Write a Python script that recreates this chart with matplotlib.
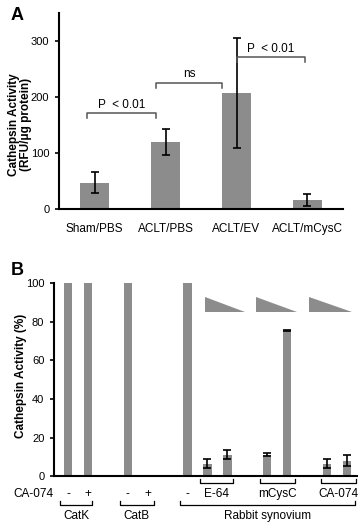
import matplotlib
matplotlib.use('Agg')
import matplotlib.pyplot as plt
import numpy as np

plt.rcParams['font.family'] = ['Liberation Sans', 'DejaVu Sans']

# ---- panel A data
groups_a = ['Sham/PBS', 'ACLT/PBS', 'ACLT/EV', 'ACLT/mCysC']
act_a = [47, 120, 207, 16]
err_a = [19, 23, 98, 11]
# brackets: (x_start, x_end, y, label)
brackets_a = [(-0.1, 0.86, 171, 'P  < 0.01'),
              (0.86, 1.80, 225, 'ns'),
              (2.01, 2.96, 271, 'P  < 0.01')]

# ---- panel B data
pos_b = [0, 1, 3, 4, 6, 7, 8, 10, 11, 13, 14]
act_b = [100, 100, 100, 0, 100, 6.5, 11, 11, 75.5, 6.5, 8]
err_b = [0, 0, 0, 0, 0, 2.5, 2.3, 0.8, 0.3, 2.5, 3]
signs_b = [(0, '-'), (1, '+'), (3, '-'), (4, '+'), (6, '-')]
inhib_groups = [(6.6, 8.3, 'E-64'), (9.65, 11.4, 'mCysC'), (12.7, 14.45, 'CA-074')]
sample_groups = [(-0.38, 1.2, 'CatK'), (2.6, 4.3, 'CatB'), (5.6, 14.4, 'Rabbit synovium')]
# dose wedges (x_left, x_right)
wedges = [(6.87, 8.87), (9.45, 11.5), (12.1, 14.25)]
wedge_top, wedge_bot = 93, 85

bar_col = '#8c8c8c'
fs = 8.5

fig = plt.figure(figsize=(3.58, 5.22), dpi=100)

# ---------------- A
ax = fig.add_axes([0.165, 0.5996, 0.793, 0.375])
x = np.arange(len(groups_a))
ax.bar(x, act_a, width=0.41, color=bar_col)
ax.errorbar(x, act_a, yerr=err_a, fmt='none', ecolor='black', elinewidth=1.2, capsize=2.8, capthick=1.2)
ax.set_xlim(-0.5, 3.5)
ax.set_ylim(0, 350)
ax.set_yticks([0, 100, 200, 300])
ax.set_xticks(x)
ax.set_xticklabels(groups_a, fontsize=fs)
ax.tick_params(axis='x', length=0, pad=10)
ax.tick_params(axis='y', labelsize=fs - 0.5, length=3, width=1.2, direction='out', pad=4)
for s in ['top', 'right']:
    ax.spines[s].set_visible(False)
for s in ['left', 'bottom']:
    ax.spines[s].set_linewidth(1.5)
for x0, x1, y, lab in brackets_a:
    ax.plot([x0, x0, x1, x1], [y - 8, y, y, y - 8], color='#555555', lw=1.1)
    ax.text((x0 + x1) / 2, y + 5, lab, ha='center', va='bottom', fontsize=fs)
ax.set_ylabel('Cathepsin Activity\n(RFU/\u03bcg protein)', fontsize=fs, fontweight='bold', linespacing=1.0)
ax.yaxis.set_label_coords(-0.095, 0.43)
fig.text(0.030, 0.987, 'A', fontsize=13, fontweight='bold', va='top')

# ---------------- B
bx = fig.add_axes([0.151, 0.088, 0.846, 0.369])
bx.bar(pos_b, act_b, width=0.42, color=bar_col)
pe = [(p, a, e) for p, a, e in zip(pos_b, act_b, err_b) if e > 0]
bx.errorbar([p for p, a, e in pe], [a for p, a, e in pe], yerr=[e for p, a, e in pe],
            fmt='none', ecolor='black', elinewidth=1.2, capsize=2.8, capthick=1.2)
for xl, xr in wedges:
    bx.fill([xl, xl, xr], [wedge_top, wedge_bot, wedge_bot], color=bar_col, lw=0)
bx.set_xlim(-0.7, 14.5)
bx.set_ylim(0, 100)
bx.set_yticks([0, 20, 40, 60, 80, 100])
bx.set_xticks([])
bx.tick_params(axis='y', labelsize=fs - 0.5, length=3, width=1.2, direction='out', pad=4)
for s in ['top', 'right']:
    bx.spines[s].set_visible(False)
for s in ['left', 'bottom']:
    bx.spines[s].set_linewidth(1.5)
bx.set_ylabel('Cathepsin Activity (%)', fontsize=fs, fontweight='bold')
bx.yaxis.set_label_coords(-0.09, 0.52)

tr = bx.get_xaxis_transform()
bx.text(-0.75, -0.093, 'CA-074', transform=tr, ha='right', va='center', fontsize=fs, clip_on=False)
for p, s in signs_b:
    bx.text(p, -0.093, s, transform=tr, ha='center', va='center', fontsize=fs, clip_on=False)
for x0, x1, lab in inhib_groups:
    bx.plot([x0, x0, x1, x1], [-0.016, -0.038, -0.038, -0.016], transform=tr, color='black', lw=0.9, clip_on=False)
    bx.text((x0 + x1) / 2, -0.093, lab, transform=tr, ha='center', va='center', fontsize=fs, clip_on=False)
for x0, x1, lab in sample_groups:
    bx.plot([x0, x0, x1, x1], [-0.130, -0.150, -0.150, -0.130], transform=tr, color='black', lw=0.9, clip_on=False)
    bx.text((x0 + x1) / 2, -0.208, lab, transform=tr, ha='center', va='center', fontsize=fs, clip_on=False)
fig.text(0.030, 0.499, 'B', fontsize=13, fontweight='bold', va='top')

fig.savefig('out.png', dpi=100)
